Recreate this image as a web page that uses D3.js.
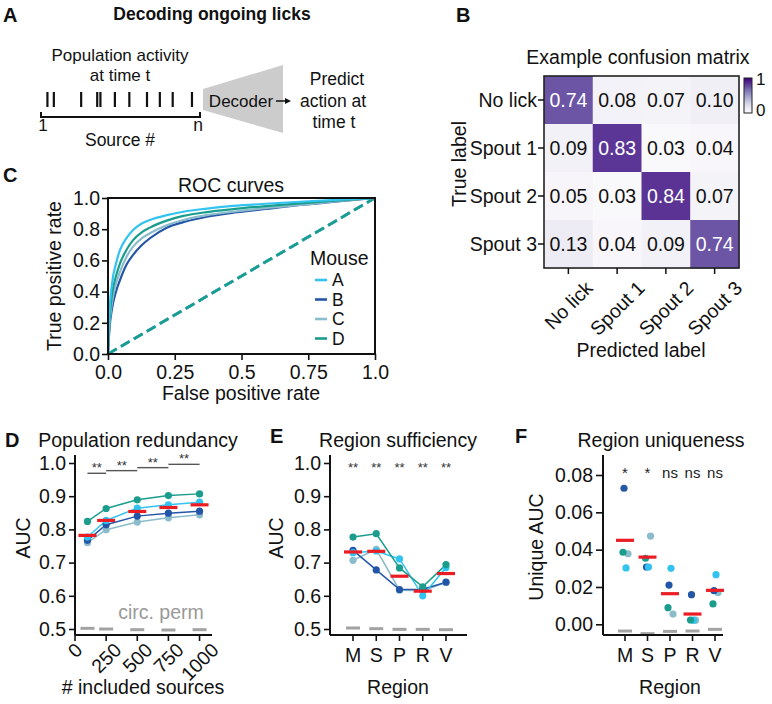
<!DOCTYPE html>
<html><head><meta charset="utf-8">
<script src="https://cdn.jsdelivr.net/npm/d3@7"></script>
<style>body{margin:0;background:#fff} svg{display:block} text{font-family:"Liberation Sans",Arial,sans-serif}</style>
</head><body><svg id="fig" width="772" height="704"></svg>
<script>
// ---------------- DATA ----------------
const mice = ["A", "B", "C", "D"];
const mouseColors = ["#33c3f0", "#2456a8", "#8bbccc", "#1b9d8d"];

// Panel A schematic: source indices (1..100) that are active
const spikeSources = [5, 9, 26, 36, 38, 47, 56, 67, 75, 83, 95];

// Panel B confusion matrix
const cmLabels = ["No lick", "Spout 1", "Spout 2", "Spout 3"];
const cmRow0 = [0.74, 0.08, 0.07, 0.10];
const cmRow1 = [0.09, 0.83, 0.03, 0.04];
const cmRow2 = [0.05, 0.03, 0.84, 0.07];
const cmRow3 = [0.13, 0.04, 0.09, 0.74];

// Panel C ROC curves
const rocFpr  = [0, 0.005, 0.015, 0.03, 0.045, 0.07, 0.094, 0.125, 0.157, 0.22, 0.282, 0.37, 0.469, 0.59, 0.719, 0.85, 1.0];
const rocTprA = [0, 0.25, 0.45, 0.58, 0.667, 0.745, 0.795, 0.835, 0.859, 0.89, 0.912, 0.932, 0.949, 0.963, 0.976, 0.988, 1.0];
const rocTprB = [0, 0.15, 0.29, 0.40, 0.474, 0.575, 0.635, 0.695, 0.742, 0.81, 0.845, 0.88, 0.906, 0.93, 0.955, 0.976, 1.0];
const rocTprC = [0, 0.17, 0.33, 0.45, 0.528, 0.625, 0.688, 0.74, 0.774, 0.825, 0.859, 0.89, 0.912, 0.935, 0.955, 0.978, 1.0];
const rocTprD = [0, 0.20, 0.38, 0.50, 0.581, 0.67, 0.73, 0.778, 0.81, 0.855, 0.885, 0.91, 0.929, 0.948, 0.966, 0.983, 1.0];
const chanceFpr = [0, 1];
const chanceTpr = [0, 1];
const rocXTicks = [0, 0.25, 0.5, 0.75, 1.0];
const rocYTicks = [0, 0.2, 0.4, 0.6, 0.8, 1.0];

// Panel D population redundancy
const nSources = [100, 250, 500, 750, 1000];
const redundA = [0.777, 0.827, 0.864, 0.874, 0.882];
const redundB = [0.767, 0.814, 0.840, 0.849, 0.855];
const redundC = [0.760, 0.799, 0.822, 0.835, 0.844];
const redundD = [0.824, 0.863, 0.889, 0.902, 0.907];
const redundMean = [0.782, 0.827, 0.854, 0.866, 0.874];
const redundPerm = [0.502, 0.500, 0.498, 0.497, 0.498];
const redundSigPairs = [[100, 250], [250, 500], [500, 750], [750, 1000]];
const redundSigHeight = [0.969, 0.977, 0.986, 0.996];
const redundSigLabel = ["**", "**", "**", "**"];
const redundXTicks = [0, 250, 500, 750, 1000];
const aucTicks = [0.5, 0.6, 0.7, 0.8, 0.9, 1.0];

// Panel E region sufficiency
const regions = ["M", "S", "P", "R", "V"];
const suffA = [0.730, 0.735, 0.711, 0.600, 0.685];
const suffB = [0.737, 0.678, 0.619, 0.620, 0.641];
const suffC = [0.707, 0.740, 0.617, 0.615, 0.640];
const suffD = [0.777, 0.787, 0.684, 0.627, 0.694];
const suffMean = [0.732, 0.734, 0.659, 0.614, 0.667];
const suffPerm = [0.503, 0.501, 0.499, 0.499, 0.498];
const suffSig = ["**", "**", "**", "**", "**"];

// Panel F region uniqueness
const uniqA = [0.0302, 0.0307, 0.0300, 0.0022, 0.0266];
const uniqB = [0.0729, 0.0307, 0.0210, 0.0159, 0.0180];
const uniqC = [0.0378, 0.0473, 0.0055, 0.0022, 0.0170];
const uniqD = [0.0386, 0.0354, 0.0089, 0.0023, 0.0109];
const uniqMean = [0.0450, 0.0360, 0.0164, 0.0055, 0.0182];
const uniqPerm = [-0.0036, -0.0050, -0.0038, -0.0036, -0.0027];
const uniqSig = ["*", "*", "ns", "ns", "ns"];
const uniqTicks = [0, 0.02, 0.04, 0.06, 0.08];

// ---------------- DRAWING ----------------
const svg = d3.select("#fig");
const FS = 19.5;
const RED = "#ec1c24", PERM = "#a3a3a3";

function txt(g, x, y, s, o = {}) {
  const t = g.append("text").attr("x", x).attr("y", y).text(s)
    .attr("font-size", o.size || FS).attr("fill", o.fill || "#111")
    .attr("text-anchor", o.anchor || "start");
  if (o.bold) t.attr("font-weight", "bold");
  if (o.rot) t.attr("transform", `rotate(${o.rot},${x},${y})`);
  return t;
}
function rotLabel(g, x, top, s, size) {
  const t = g.append("text").text(s).attr("font-size", size || FS).attr("fill", "#111")
    .attr("text-anchor", "middle").attr("dominant-baseline", "central");
  const w = t.node().getComputedTextLength();
  const h = (size || FS) * 0.78;
  const ext = (w + h) * Math.SQRT1_2;
  t.attr("transform", `translate(${x},${top + ext / 2}) rotate(-45)`);
}
function leftAxis(g, scale, ticks, fmt, x, y0, y1, tick = 6, pad = 3) {
  const a = g.append("g").attr("transform", `translate(${x},0)`)
    .call(d3.axisLeft(scale).tickValues(ticks).tickFormat(d3.format(fmt)).tickSize(tick).tickPadding(pad).tickSizeOuter(0));
  a.select(".domain").remove();
  a.selectAll(".tick line").attr("stroke", "#111").attr("stroke-width", 1.6);
  a.selectAll(".tick text").attr("font-size", FS).attr("fill", "#111").attr("font-family", "Liberation Sans, Arial, sans-serif");
  g.append("line").attr("x1", x).attr("x2", x).attr("y1", y0).attr("y2", y1).attr("stroke", "#111").attr("stroke-width", 2);
  return a;
}

// ---- Panel A ----
const gA = svg.append("g");
txt(gA, 3, 22, "A", {bold: true, size: 20});
txt(gA, 212, 20, "Decoding ongoing licks", {bold: true, size: 17.5, anchor: "middle"});
txt(gA, 120, 61, "Population activity", {size: 17, anchor: "middle"});
txt(gA, 120, 81, "at time t", {size: 17, anchor: "middle"});
const srcX = d3.scaleLinear().domain([1, 100]).range([41, 200]);
gA.selectAll("line.spk").data(spikeSources).join("line").attr("class", "spk")
  .attr("x1", d => srcX(d)).attr("x2", d => srcX(d)).attr("y1", 92).attr("y2", 107)
  .attr("stroke", "#111").attr("stroke-width", 2.2);
gA.append("path").attr("d", `M${srcX(1)},112 V117 H${srcX(100)} V112`).attr("fill", "none").attr("stroke", "#111").attr("stroke-width", 2);
txt(gA, srcX(1) + 2, 131, "1", {size: 17, anchor: "middle"});
txt(gA, 120, 146, "Source #", {size: 17.5, anchor: "middle"});
txt(gA, srcX(100) - 2, 131, "n", {size: 17.5, anchor: "middle"});
gA.append("polygon").attr("points", "203,89 283,65 283,133 203,110").attr("fill", "#cccccc");
txt(gA, 241, 107, "Decoder", {size: 17, anchor: "middle"});
gA.append("line").attr("x1", 276).attr("x2", 286).attr("y1", 101).attr("y2", 101).attr("stroke", "#111").attr("stroke-width", 1.5);
gA.append("polygon").attr("points", "285,98 291,101 285,104").attr("fill", "#111");
txt(gA, 337, 85, "Predict", {size: 17.5, anchor: "middle"});
txt(gA, 333, 107, "action at", {size: 17.5, anchor: "middle"});
txt(gA, 334, 128, "time t", {size: 17.5, anchor: "middle"});

// ---- Panel B ----
const gB = svg.append("g");
txt(gB, 456, 22, "B", {bold: true, size: 20});
txt(gB, 638, 64, "Example confusion matrix", {anchor: "middle"});
const cm = [cmRow0, cmRow1, cmRow2, cmRow3];
const cx = d3.scaleBand().domain(cmLabels).range([544, 739]);
const cy = d3.scaleBand().domain(cmLabels).range([76, 268]);
const col = d3.scaleSequential(d3.interpolatePurples).domain([0, 1]);
cm.forEach((row, i) => row.forEach((v, j) => {
  gB.append("rect").attr("x", cx(cmLabels[j])).attr("y", cy(cmLabels[i]))
    .attr("width", cx.bandwidth() + 0.5).attr("height", cy.bandwidth() + 0.5).attr("fill", col(v));
  txt(gB, cx(cmLabels[j]) + cx.bandwidth() / 2, cy(cmLabels[i]) + cy.bandwidth() / 2 + 7, v.toFixed(2),
    {anchor: "middle", fill: v > 0.5 ? "#fff" : "#111"});
}));
gB.append("rect").attr("x", 544).attr("y", 76).attr("width", 195).attr("height", 192)
  .attr("fill", "none").attr("stroke", "#222").attr("stroke-width", 1.6);
cmLabels.forEach(l => {
  const yc = cy(l) + cy.bandwidth() / 2;
  gB.append("line").attr("x1", 538).attr("x2", 544).attr("y1", yc).attr("y2", yc).attr("stroke", "#111").attr("stroke-width", 1.5);
  txt(gB, 537, yc + 7, l, {anchor: "end"});
  const xc = cx(l) + cx.bandwidth() / 2;
  gB.append("line").attr("x1", xc).attr("x2", xc).attr("y1", 268).attr("y2", 274).attr("stroke", "#111").attr("stroke-width", 1.5);
  rotLabel(gB, xc, 279, l);
});
txt(gB, 466, 164, "True label", {anchor: "middle", rot: -90});
txt(gB, 641, 357, "Predicted label", {anchor: "middle"});
const grad = svg.append("defs").append("linearGradient").attr("id", "cbar").attr("x1", 0).attr("x2", 0).attr("y1", 0).attr("y2", 1);
d3.range(0, 1.01, 0.1).forEach(t => grad.append("stop").attr("offset", t).attr("stop-color", col(1 - t)));
gB.append("rect").attr("x", 744).attr("y", 78).attr("width", 8).attr("height", 35)
  .attr("fill", "url(#cbar)").attr("stroke", "#222").attr("stroke-width", 1);
txt(gB, 756, 85, "1", {size: 17});
txt(gB, 756, 116, "0", {size: 17});

// ---- Panel C ----
const gC = svg.append("g");
txt(gC, 3, 182, "C", {bold: true, size: 20});
txt(gC, 231, 192, "ROC curves", {anchor: "middle"});
const rx = d3.scaleLinear().domain([0, 1]).range([108, 375]);
const ry = d3.scaleLinear().domain([0, 1]).range([354, 198]);
const rocT = [rocTprA, rocTprB, rocTprC, rocTprD];
const rocLine = d3.line().x(d => rx(d[0])).y(d => ry(d[1])).curve(d3.curveMonotoneX);
[1, 2, 0, 3].forEach(i => {
  gC.append("path").attr("d", d3.line().x(d => rx(d[0])).y(d => ry(d[1]))(chanceFpr.map((f, k) => [f, chanceTpr[k]])))
    .attr("fill", "none").attr("stroke", mouseColors[i]).attr("stroke-width", 2.6).attr("stroke-dasharray", "10,5");
});
[1, 2, 3, 0].forEach(i => {
  gC.append("path").attr("d", rocLine(rocFpr.map((f, k) => [f, rocT[i][k]])))
    .attr("fill", "none").attr("stroke", mouseColors[i]).attr("stroke-width", 2.2);
});
gC.append("rect").attr("x", 108).attr("y", 198).attr("width", 267).attr("height", 156)
  .attr("fill", "none").attr("stroke", "#111").attr("stroke-width", 2);
leftAxis(gC, ry, rocYTicks, ".1f", 108, 198, 354, 6, 2);
const cxa = gC.append("g").attr("transform", "translate(0,354)")
  .call(d3.axisBottom(rx).tickValues(rocXTicks).tickFormat(d => d === 0.25 || d === 0.75 ? d3.format(".2f")(d) : d3.format(".1f")(d)).tickSize(6).tickPadding(5).tickSizeOuter(0));
cxa.select(".domain").remove();
cxa.selectAll(".tick line").attr("stroke", "#111").attr("stroke-width", 1.6);
cxa.selectAll(".tick text").attr("font-size", FS).attr("fill", "#111").attr("font-family", "Liberation Sans, Arial, sans-serif");
txt(gC, 61, 276, "True positive rate", {anchor: "middle", rot: -90});
txt(gC, 241, 400, "False positive rate", {anchor: "middle"});
txt(gC, 310, 265, "Mouse");
mice.forEach((m, i) => {
  const by = 286 + i * 19.5;
  gC.append("line").attr("x1", 315).attr("x2", 327).attr("y1", by - 6).attr("y2", by - 6)
    .attr("stroke", mouseColors[i]).attr("stroke-width", 2.6);
  txt(gC, 332, by, m, {size: 17.5});
});

// ---- shared y scale for D, E ----
const ay = d3.scaleLinear().domain([0.5, 1.0]).range([629, 463]);

function dotPanel(g, xpos, seriesArr, mean, perm, withLines, yScale, offsets) {
  if (withLines) {
    [2, 1, 0, 3].forEach(i => {
      g.append("path").attr("d", d3.line().x((d, k) => xpos(k)).y(d => yScale(d))(seriesArr[i]))
        .attr("fill", "none").attr("stroke", mouseColors[i]).attr("stroke-width", 1.5);
    });
  }
  [2, 1, 0, 3].forEach(i => {
    g.selectAll(null).data(seriesArr[i]).join("circle")
      .attr("cx", (d, k) => xpos(k) + (offsets ? offsets[i] : 0)).attr("cy", d => yScale(d)).attr("r", 3.6)
      .attr("fill", mouseColors[i]);
  });
  g.selectAll(null).data(perm).join("line")
    .attr("x1", (d, k) => xpos(k) - 7).attr("x2", (d, k) => xpos(k) + 7)
    .attr("y1", d => yScale(d)).attr("y2", d => yScale(d)).attr("stroke", PERM).attr("stroke-width", 3);
  g.selectAll(null).data(mean).join("line")
    .attr("x1", (d, k) => xpos(k) - 9).attr("x2", (d, k) => xpos(k) + 9)
    .attr("y1", d => yScale(d)).attr("y2", d => yScale(d)).attr("stroke", RED).attr("stroke-width", 3.2);
}

// ---- Panel D ----
const gD = svg.append("g");
txt(gD, 5, 447, "D", {bold: true, size: 20});
txt(gD, 138, 447, "Population redundancy", {anchor: "middle"});
const dx = d3.scaleLinear().domain([0, 1100]).range([75, 212]);
dotPanel(gD, k => dx(nSources[k]), [redundA, redundB, redundC, redundD], redundMean, redundPerm, true, ay);
redundSigPairs.forEach((p, i) => {
  const yy = ay(redundSigHeight[i]);
  gD.append("line").attr("x1", dx(p[0])).attr("x2", dx(p[1])).attr("y1", yy).attr("y2", yy).attr("stroke", "#555").attr("stroke-width", 1.4);
  txt(gD, (dx(p[0]) + dx(p[1])) / 2, yy - 1, redundSigLabel[i], {size: 13, anchor: "middle", fill: "#333"});
});
leftAxis(gD, ay, aucTicks, ".1f", 75, 455, 635, 6, 3);
gD.append("line").attr("x1", 75).attr("x2", 212).attr("y1", 635).attr("y2", 635).attr("stroke", "#111").attr("stroke-width", 2);
redundXTicks.forEach(t => {
  gD.append("line").attr("x1", dx(t)).attr("x2", dx(t)).attr("y1", 635).attr("y2", 641).attr("stroke", "#111").attr("stroke-width", 1.6);
  rotLabel(gD, dx(t), 641, String(t));
});
txt(gD, 161, 619, "circ. perm", {anchor: "middle", fill: "#999"});
txt(gD, 30, 538, "AUC", {anchor: "middle", rot: -90});
txt(gD, 143, 694, "# included sources", {anchor: "middle"});

// ---- Panel E ----
const gE = svg.append("g");
txt(gE, 270, 443, "E", {bold: true, size: 20});
txt(gE, 398, 447, "Region sufficiency", {anchor: "middle"});
const ex = d3.scalePoint().domain(regions).range([353, 446]);
dotPanel(gE, k => ex(regions[k]), [suffA, suffB, suffC, suffD], suffMean, suffPerm, true, ay);
regions.forEach((r, k) => txt(gE, ex(r), ay(0.985) + 4, suffSig[k], {size: 13, anchor: "middle", fill: "#333"}));
leftAxis(gE, ay, aucTicks, ".1f", 330, 455, 635, 6, 3);
gE.append("line").attr("x1", 330).attr("x2", 467).attr("y1", 635).attr("y2", 635).attr("stroke", "#111").attr("stroke-width", 2);
regions.forEach(r => {
  gE.append("line").attr("x1", ex(r)).attr("x2", ex(r)).attr("y1", 635).attr("y2", 641).attr("stroke", "#111").attr("stroke-width", 1.6);
  txt(gE, ex(r), 662, r, {anchor: "middle"});
});
txt(gE, 283, 538, "AUC", {anchor: "middle", rot: -90});
txt(gE, 398, 694, "Region", {anchor: "middle"});

// ---- Panel F ----
const gF = svg.append("g");
txt(gF, 515, 443, "F", {bold: true, size: 20});
txt(gF, 661, 447, "Region uniqueness", {anchor: "middle"});
const fy = d3.scaleLinear().domain([0, 0.08]).range([624.3, 475]);
const fx = d3.scalePoint().domain(regions).range([625, 715]);
dotPanel(gF, k => fx(regions[k]), [uniqA, uniqB, uniqC, uniqD], uniqMean, uniqPerm, false, fy, [1, -1, 3, -2]);
regions.forEach((r, k) => {
  txt(gF, fx(r), 478, uniqSig[k], {size: 15, anchor: "middle", fill: "#222"});
});
leftAxis(gF, fy, uniqTicks, ".2f", 603, 455, 635, 7, 3);
gF.append("line").attr("x1", 603).attr("x2", 723).attr("y1", 635).attr("y2", 635).attr("stroke", "#111").attr("stroke-width", 2);
regions.forEach(r => {
  gF.append("line").attr("x1", fx(r)).attr("x2", fx(r)).attr("y1", 635).attr("y2", 641).attr("stroke", "#111").attr("stroke-width", 1.6);
  txt(gF, fx(r), 662, r, {anchor: "middle"});
});
txt(gF, 543, 547, "Unique AUC", {anchor: "middle", rot: -90});
txt(gF, 670, 694, "Region", {anchor: "middle"});
</script></body></html>
